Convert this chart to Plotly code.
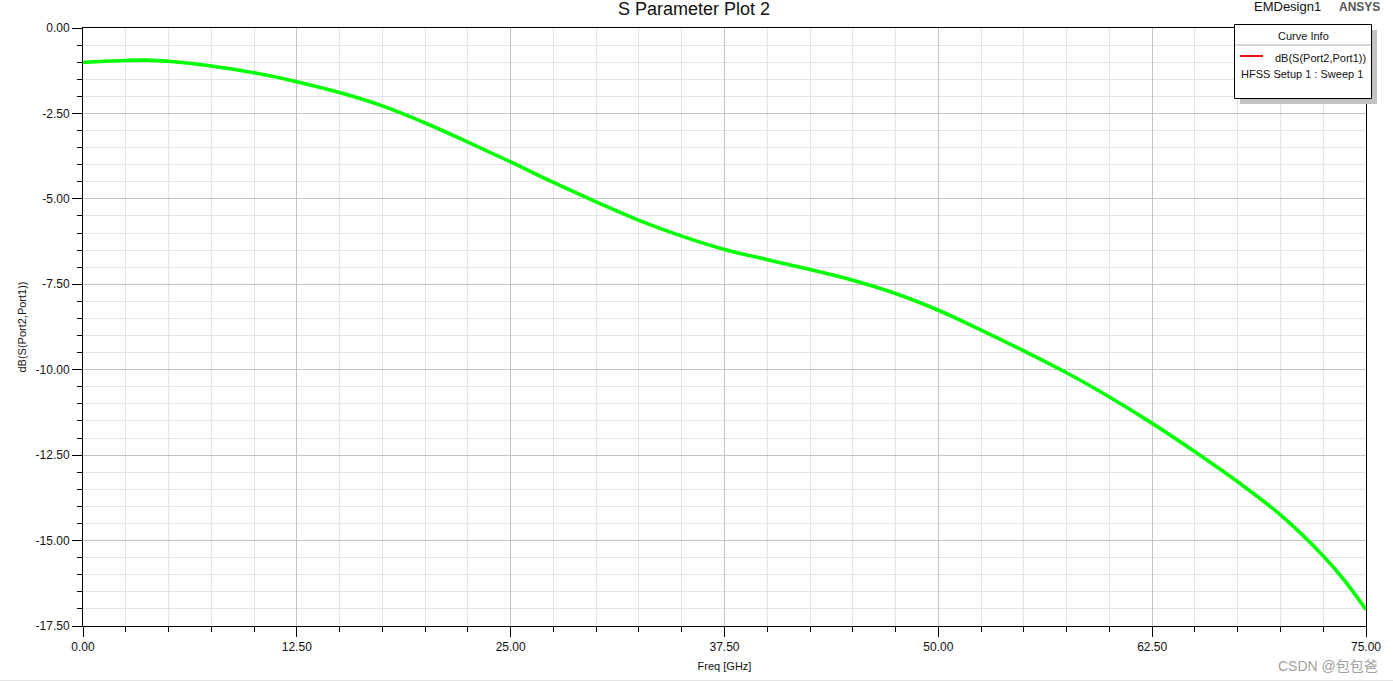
import plotly.graph_objects as go

# ---- data ----
freq_ghz = [0.0, 1.25, 2.5, 3.75, 5.0, 7.5, 10.0, 12.5, 15.0, 17.5, 20.0, 22.5, 25.0,
            27.5, 30.0, 32.5, 35.0, 37.5, 40.0, 42.5, 45.0, 47.5, 50.0, 52.5,
            55.0, 57.5, 60.0, 62.5, 65.0, 67.5, 70.0, 72.5, 73.75, 75.0]
s21_db = [-1.01, -0.975, -0.95, -0.94, -0.975, -1.11, -1.31, -1.57, -1.89, -2.28, -2.78, -3.34, -3.92,
          -4.52, -5.09, -5.63, -6.09, -6.48, -6.78, -7.07, -7.38, -7.77, -8.26, -8.84,
          -9.45, -10.09, -10.80, -11.57, -12.40, -13.28, -14.25, -15.45, -16.17, -17.02]

x_tick_vals = [0, 12.5, 25, 37.5, 50, 62.5, 75]
x_tick_labels = ["0.00", "12.50", "25.00", "37.50", "50.00", "62.50", "75.00"]
y_tick_vals = [0, -2.5, -5, -7.5, -10, -12.5, -15, -17.5]
y_tick_labels = ["0.00", "-2.50", "-5.00", "-7.50", "-10.00", "-12.50", "-15.00", "-17.50"]

W, H = 1393, 682
L, R, T, B = 83, 1366, 28, 626
PW, PH = R - L, B - T


def px(x):
    return (x - L) / PW


def py(y):
    return (B - y) / PH


FONT = "Liberation Sans, Arial, sans-serif"

fig = go.Figure()
fig.add_trace(go.Scatter(
    x=freq_ghz, y=s21_db, mode="lines",
    line=dict(color="#00ff00", width=3.6, shape="spline", smoothing=1.0),
    showlegend=False, hoverinfo="x+y",
))

axis_common = dict(
    showline=True, linecolor="black", linewidth=1, mirror=True,
    ticks="outside", ticklen=10, tickcolor="black", tickwidth=1,
    showgrid=True, gridcolor="#c4c4c4", gridwidth=1, zeroline=False,
    tickfont=dict(family=FONT, size=12, color="#111111"),
)

fig.update_xaxes(
    range=[0, 75], tickmode="array", tickvals=x_tick_vals, ticktext=x_tick_labels,
    title=dict(text="Freq [GHz]", font=dict(family=FONT, size=11, color="#111111"), standoff=8),
    minor=dict(dtick=2.5, tick0=0, showgrid=True, gridcolor="#e4e4e4", gridwidth=1,
               ticks="outside", ticklen=5, tickcolor="black"),
    **axis_common,
)
fig.update_yaxes(
    range=[-17.5, 0], tickmode="array", tickvals=y_tick_vals, ticktext=y_tick_labels,
    title=dict(text="dB(S(Port2,Port1))", font=dict(family=FONT, size=11, color="#111111"), standoff=6),
    minor=dict(dtick=0.5, tick0=0, showgrid=True, gridcolor="#e4e4e4", gridwidth=1,
               ticks="outside", ticklen=5, tickcolor="black"),
    **axis_common,
)

shapes = []
# legend shadow
shapes.append(dict(type="rect", xref="paper", yref="paper",
                   x0=px(1240), x1=px(1377), y0=py(104), y1=py(30),
                   fillcolor="#c3c3c3", line=dict(width=0), layer="above"))
# legend box
shapes.append(dict(type="rect", xref="paper", yref="paper",
                   x0=px(1234.5), x1=px(1371.5), y0=py(98.5), y1=py(24.5),
                   fillcolor="white", line=dict(color="black", width=1), layer="above"))
# header separator
shapes.append(dict(type="line", xref="paper", yref="paper",
                   x0=px(1235), x1=px(1371), y0=py(45), y1=py(45),
                   line=dict(color="#b0b0b0", width=1), layer="above"))
# red legend sample
shapes.append(dict(type="line", xref="paper", yref="paper",
                   x0=px(1240), x1=px(1263), y0=py(56), y1=py(56),
                   line=dict(color="#ee1111", width=2), layer="above"))
# bottom light rule
shapes.append(dict(type="line", xref="paper", yref="paper",
                   x0=px(0), x1=px(W), y0=py(680.5), y1=py(680.5),
                   line=dict(color="#e2e2e2", width=1), layer="above"))

ann = []


def text(x, y, s, size, color="#111111", xanchor="center", bold=False, family=FONT):
    ann.append(dict(x=px(x), y=py(y), xref="paper", yref="paper", text=("<b>%s</b>" % s) if bold else s,
                    showarrow=False, xanchor=xanchor, yanchor="middle",
                    font=dict(family=family, size=size, color=color)))


text(694, 9, "S Parameter Plot 2", 18, color="#111111")
text(1287, 7, "EMDesign1", 13)
text(1359, 7, "ANSYS", 12, color="#555555", bold=True)
text(1303, 36, "Curve Info", 11)
text(1368, 58, "dB(S(Port2,Port1))", 11, xanchor="right")
text(1239, 74, "HFSS Setup 1 : Sweep 1", 11, xanchor="left")
text(1328, 666, "CSDN @包包爸", 14, color="#a0a0a0",
     family="Liberation Sans, Noto Sans CJK SC, sans-serif")

fig.update_layout(
    width=W, height=H,
    margin=dict(l=L, r=W - R, t=T, b=H - B, pad=0),
    paper_bgcolor="white", plot_bgcolor="white",
    shapes=shapes, annotations=ann,
    showlegend=False,
)

fig.write_html(
    "out.html",
    config={"displayModeBar": False},
    post_script="document.body.style.margin='0px';document.body.style.overflow='hidden';",
)
